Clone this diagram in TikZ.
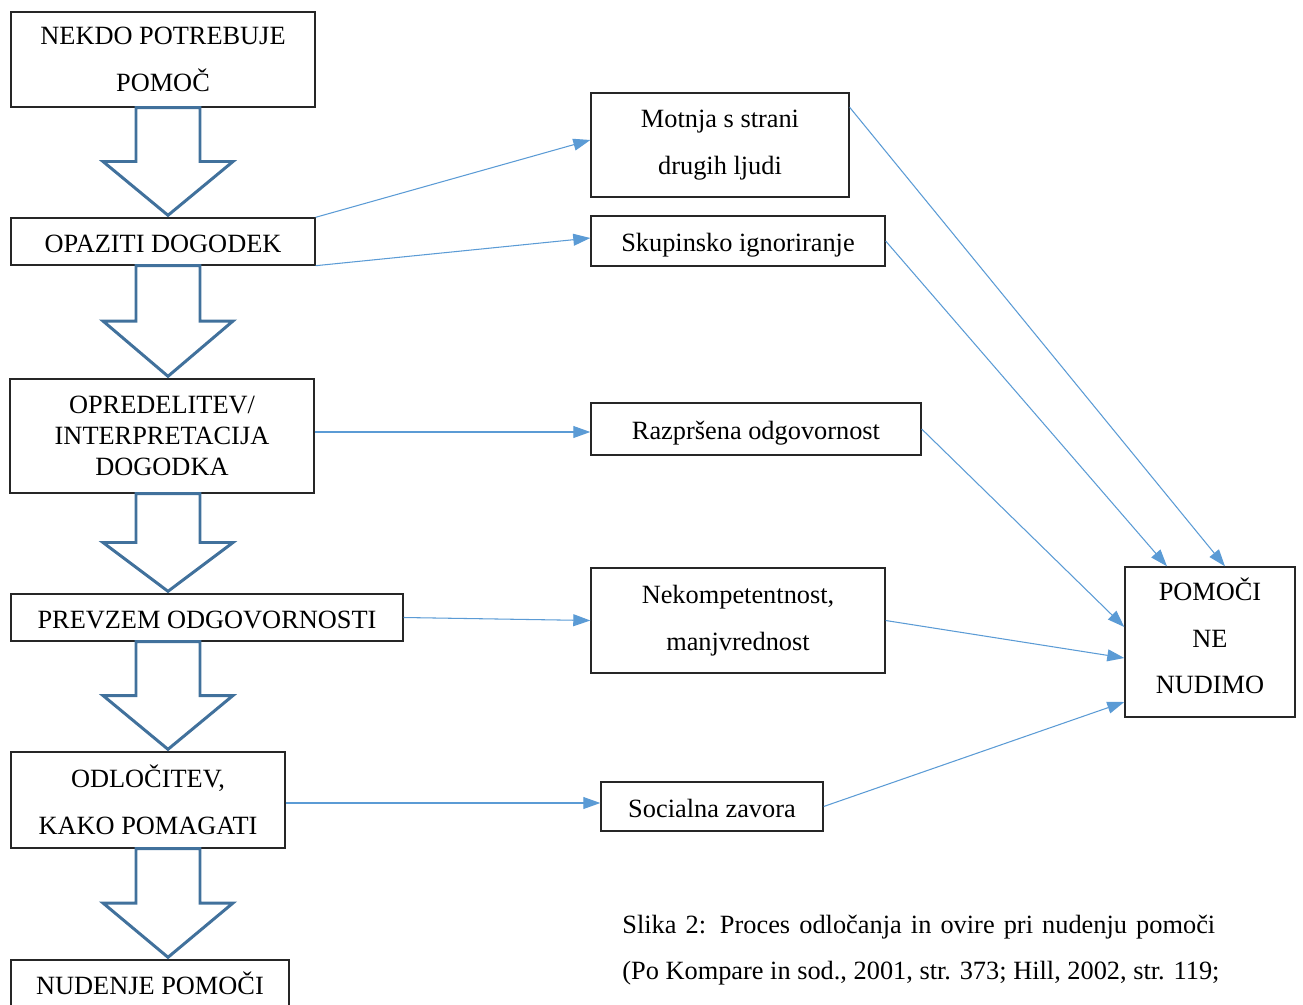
\documentclass[tikz,border=0pt]{standalone}
\usepackage{fontspec}
\setmainfont{Liberation Serif}
\usetikzlibrary{arrows.meta,calc}
\definecolor{arrowblue}{HTML}{41719C}
\definecolor{linkblue}{HTML}{5B9BD5}

\tikzset{
  box/.style={draw=black!85,line width=0.8pt,inner sep=0pt,align=center,
    font=\fontsize{15}{26.7}\selectfont},
  oneline/.style={box,text height=12pt,text depth=0pt},
  bigarrow/.style={draw=arrowblue,line width=1.7pt,line join=miter},
  link/.style={draw=linkblue,line width=0.6pt,-{Triangle[length=9.7pt,width=6.8pt]}}
}

% hollow down arrow from the bottom of #1 to the top of #2
\newcommand{\hollowarrow}[2]{%
  \coordinate (ht) at (axis |- #1.south);
  \coordinate (hp) at ($(axis |- #2.north)+(0,-2)$);
  \coordinate (hm) at ($(ht)!0.5!(hp)$);
  \draw[bigarrow] ($(ht)+(-32,0)$) -- ($(ht)+(32,0)$) -- ($(hm)+(32,0)$)
    -- ($(hm)+(65,0)$) -- (hp) -- ($(hm)+(-65,0)$) -- ($(hm)+(-32,0)$) -- cycle;}

\begin{document}
\begin{tikzpicture}[x=0.02cm,y=-0.02cm]
  \useasboundingbox (0,0) rectangle (1303,1005);
  \coordinate (axis) at (168,0);

  % left column
  \node[box,minimum width=6.08cm,minimum height=1.9cm] (b1) at (163,59.5) {NEKDO POTREBUJE\\POMOČ};
  \node[oneline,minimum width=6.08cm,minimum height=0.94cm] (b2) at (163,241.5) {OPAZITI DOGODEK};
  \node[box,minimum width=6.08cm,minimum height=2.28cm,font=\fontsize{15}{17.6}\selectfont] (b3) at (162,436) {OPREDELITEV/\\INTERPRETACIJA\\DOGODKA};
  \node[oneline,minimum width=7.84cm,minimum height=0.94cm] (b4) at (207,617.5) {PREVZEM ODGOVORNOSTI};
  \node[box,minimum width=5.48cm,minimum height=1.92cm] (b5) at (148,800) {ODLOČITEV,\\KAKO POMAGATI};
  \node[oneline,minimum width=5.56cm,minimum height=0.94cm] (b6) at (150,983.5) {NUDENJE POMOČI};

  \hollowarrow{b1}{b2}
  \hollowarrow{b2}{b3}
  \hollowarrow{b3}{b4}
  \hollowarrow{b4}{b5}
  \hollowarrow{b5}{b6}

  % obstacles
  \node[box,minimum width=5.16cm,minimum height=2.08cm] (m1) at (720,145) {Motnja s strani\\drugih ljudi};
  \node[oneline,minimum width=5.88cm,minimum height=1.0cm] (m2) at (738,241) {Skupinsko ignoriranje};
  \node[oneline,minimum width=6.6cm,minimum height=1.04cm] (m3) at (756,429) {Razpršena odgovornost};
  \node[box,minimum width=5.88cm,minimum height=2.1cm] (m4) at (738,620.5) {Nekompetentnost,\\manjvrednost};
  \node[oneline,minimum width=4.44cm,minimum height=0.98cm] (m5) at (712,806.5) {Socialna zavora};

  \node[box,minimum width=3.4cm,minimum height=3.0cm,font=\fontsize{15}{26.4}\selectfont] (r) at (1210,642) {POMOČI\\NE\\NUDIMO\vspace{7pt}};

  \draw[link] (b2.north east) -- ($(m1.west)+(0,-5)$);
  \draw[link] (b2.south east) -- ($(m2.west)+(0,-3)$);
  \draw[link] ($(b3.east)+(0,-4)$) -- ($(b3.east -| m3.west)+(0,-4)$);
  \draw[link] (b4.east) -- (m4.west);
  \draw[link] ($(b5.east)+(0,3)$) -- ($(b5.east -| m5.west)+(0,3)$);

  \draw[link] ($(m1.north east)+(0,15)$) -- ($(r.north)+(15,0)$);
  \draw[link] (m2.east) -- ($(r.north)+(-43,0)$);
  \draw[link] (m3.east) -- ($(r.west)+(0,-15)$);
  \draw[link] (m4.east) -- ($(r.west)+(0,16)$);
  \draw[link] (m5.east) -- ($(r.west)+(0,60)$);

  \node[anchor=north west,inner sep=0pt,align=left,font=\fontsize{15}{26.2}\selectfont] (cap) at (622,915)
    {\makebox[11.86cm][s]{Slika 2: Proces odločanja in ovire pri nudenju pomoči}\\(Po Kompare in sod., 2001, str. 373; Hill, 2002, str. 119;};
\end{tikzpicture}
\end{document}
